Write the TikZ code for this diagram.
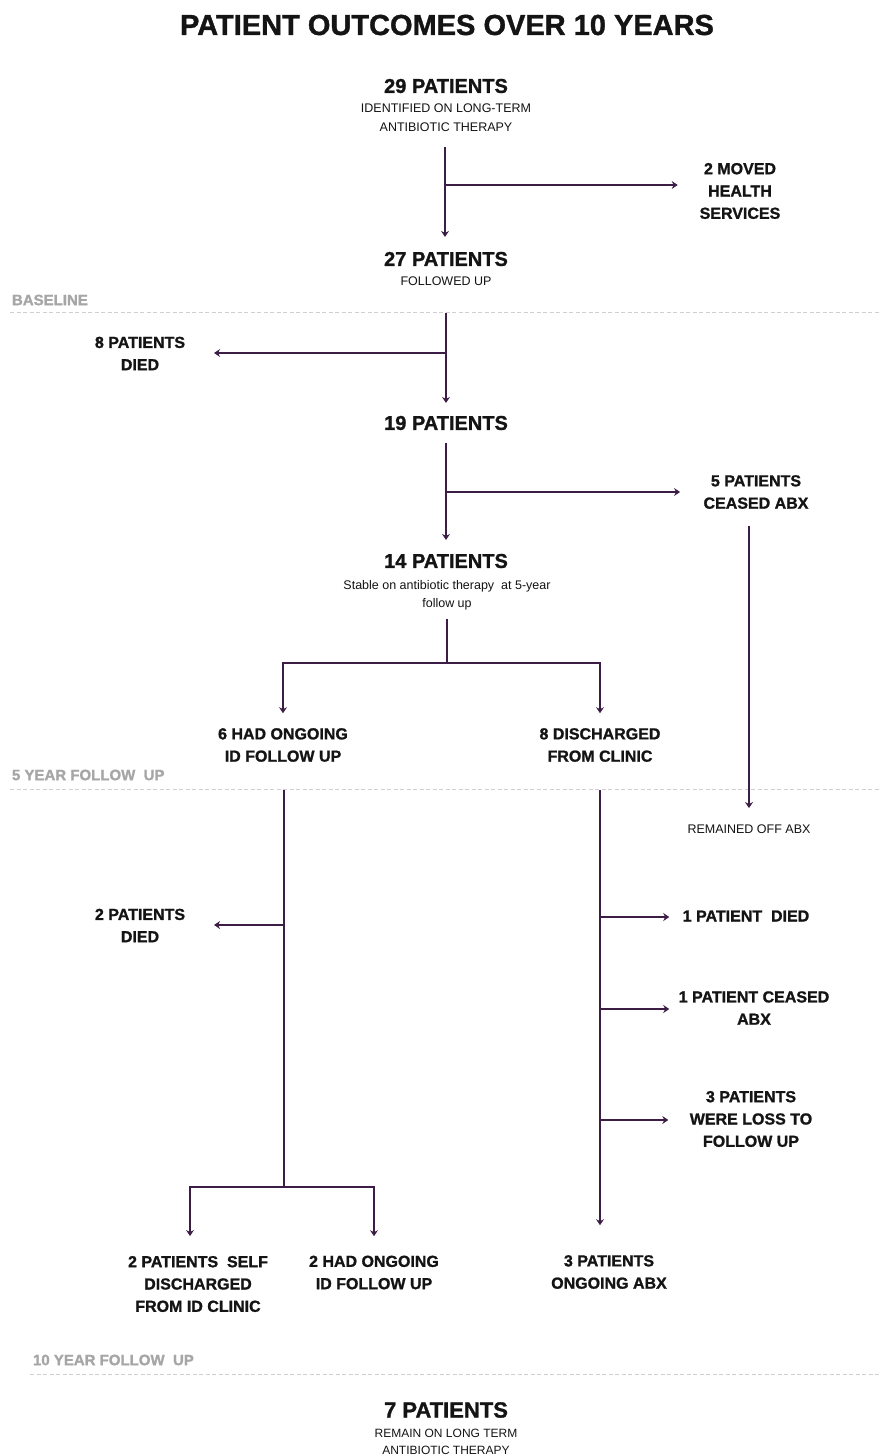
\documentclass[tikz,border=0pt]{standalone}
\usepackage{fontspec}
\setmainfont{Liberation Sans}[BoldFeatures={FakeBold=1.2}]
\usetikzlibrary{arrows.meta}
\definecolor{ink}{HTML}{141414}
\definecolor{plum}{HTML}{3B1D45}
\definecolor{secgray}{HTML}{A6A6A6}
\definecolor{dashgray}{HTML}{CFCFCF}
\tikzset{
  every node/.style={inner sep=0pt, outer sep=0pt, text=ink},
  ttl/.style={font=\bfseries\fontsize{29}{32}\selectfont},
  big/.style={font=\bfseries\fontsize{20}{24}\selectfont},
  bigger/.style={font=\bfseries\fontsize{22}{24}\selectfont},
  lbl/.style={font=\bfseries\fontsize{16}{22.3}\selectfont, align=center},
  sub/.style={font=\fontsize{12.5}{19}\selectfont, align=center},
  subb/.style={font=\fontsize{12.5}{18}\selectfont, align=center},
  sect/.style={font=\bfseries\fontsize{15}{18}\selectfont, text=secgray, anchor=west},
  conn/.style={draw=plum, line width=1.6pt},
  arr/.style={conn, -{Stealth[length=6pt,width=8pt,inset=2pt]}},
  sepline/.style={draw=dashgray, line width=1pt, dash pattern=on 4pt off 2.5pt},
}
\begin{document}
\begin{tikzpicture}[x=1pt,y=-1pt]
\fill[white] (0,0) rectangle (879,1456);
\useasboundingbox (0,0) rectangle (879,1456);

% title
\node[ttl] (title) at (447,25) {PATIENT OUTCOMES OVER 10 YEARS};

% nodes
\node[big] (p29) at (446,86) {29 PATIENTS};
\node[sub] (p29s) at (446,117.5) {IDENTIFIED ON LONG-TERM\\ANTIBIOTIC THERAPY};
\node[lbl] (moved) at (740,191) {2 MOVED\\HEALTH\\SERVICES};
\node[big] (p27) at (446,259) {27 PATIENTS};
\node[sub] (p27s) at (446,281) {FOLLOWED UP};
\node[sect] (base) at (12,300) {BASELINE};
\node[lbl] (d8) at (140,353.5) {8 PATIENTS\\DIED};
\node[big] (p19) at (446,423) {19 PATIENTS};
\node[lbl] (c5) at (756,492) {5 PATIENTS\\CEASED ABX};
\node[big] (p14) at (446,561) {14 PATIENTS};
\node[subb] (p14s) at (447,595) {Stable on antibiotic therapy\ \ at 5-year\\follow up};
\node[lbl] (id6) at (283,745) {6 HAD ONGOING\\ID FOLLOW UP};
\node[lbl] (dc8) at (600,745) {8 DISCHARGED\\FROM CLINIC};
\node[sect] (fy) at (12,775) {5 YEAR FOLLOW\ \ UP};
\node[sub] (roff) at (749,829) {REMAINED OFF ABX};
\node[lbl] (d2) at (140,925.5) {2 PATIENTS\\DIED};
\node[lbl] (r1) at (746,916) {1 PATIENT\ \ DIED};
\node[lbl] (r2) at (754,1008) {1 PATIENT CEASED\\ABX};
\node[lbl] (r3) at (751,1119) {3 PATIENTS\\WERE LOSS TO\\FOLLOW UP};
\node[lbl] (sd) at (198,1284) {2 PATIENTS\ \ SELF\\DISCHARGED\\FROM ID CLINIC};
\node[lbl] (id2) at (374,1272.5) {2 HAD ONGOING\\ID FOLLOW UP};
\node[lbl] (oa) at (609,1272) {3 PATIENTS\\ONGOING ABX};
\node[sect] (ty) at (33,1360) {10 YEAR FOLLOW\ \ UP};
\node[bigger] (p7) at (446,1410) {7 PATIENTS};
\node[font=\fontsize{12}{17}\selectfont, align=center] (p7s) at (446,1441.5) {REMAIN ON LONG TERM\\ANTIBIOTIC THERAPY};

% dashed separators
\coordinate (s1a) at (10,312); \coordinate (s1b) at (879,312);
\coordinate (s2a) at (10,789); \coordinate (s2b) at (879,789);
\coordinate (s3a) at (30,1374); \coordinate (s3b) at (879,1374);
\draw[sepline] (s1a) -- (s1b);
\draw[sepline] (s2a) -- (s2b);
\draw[sepline] (s3a) -- (s3b);

% junctions
\coordinate (j1) at (445,185);
\coordinate (j2) at (446,353);
\coordinate (j3) at (446,492);
\coordinate (j4) at (447,663);
\coordinate (j5) at (284,1187);
\coordinate (j6) at (284,925);
\coordinate (j7) at (600,917);
\coordinate (j8) at (600,1009);
\coordinate (j9) at (600,1120);

% connectors
\draw[arr, shorten <=15.5pt, shorten >=15pt] (p29s.south -| j1) -- (p27.north -| j1);
\draw[arr, shorten >=22pt] (j1) -- (j1 -| moved.west);

\draw[arr, shorten <=27.5pt, shorten >=13pt] (p27s.south -| j2) -- (p19.north -| j2);
\draw[arr, shorten >=29pt] (j2) -- (j2 -| d8.east);

\draw[arr, shorten <=12.8pt, shorten >=14pt] (p19.south -| j3) -- (p14.north -| j3);
\draw[arr, shorten >=23.5pt] (j3) -- (j3 -| c5.west);

\draw[conn, shorten <=9pt] (p14s.south -| j4) -- (j4);
\draw[arr, shorten >=15pt] (j4) -| (id6.north);
\draw[arr, shorten >=15pt] (j4) -| (dc8.north);

\draw[arr, shorten <=17pt, shorten >=16.5pt] (c5.south -| roff) -- (roff.north);

\draw[conn, shorten <=28pt] (id6.south -| j5) -- (j5);
\draw[arr, shorten >=29pt] (j6) -- (j6 -| d2.east);
\draw[arr, shorten >=20pt] (j5) -| ([xshift=-8pt]sd.north);
\draw[arr, shorten >=19.5pt] (j5) -| (id2.north);

\draw[arr, shorten <=28pt, shorten >=30pt] (dc8.south) -- (dc8.south |- oa.north);
\draw[arr, shorten >=13.5pt] (j7) -- (j7 -| r1.west);
\draw[arr, shorten >=9.5pt] (j8) -- (j8 -| r2.west);
\draw[arr, shorten >=21.5pt] (j9) -- (j9 -| r3.west);
\end{tikzpicture}
\end{document}
